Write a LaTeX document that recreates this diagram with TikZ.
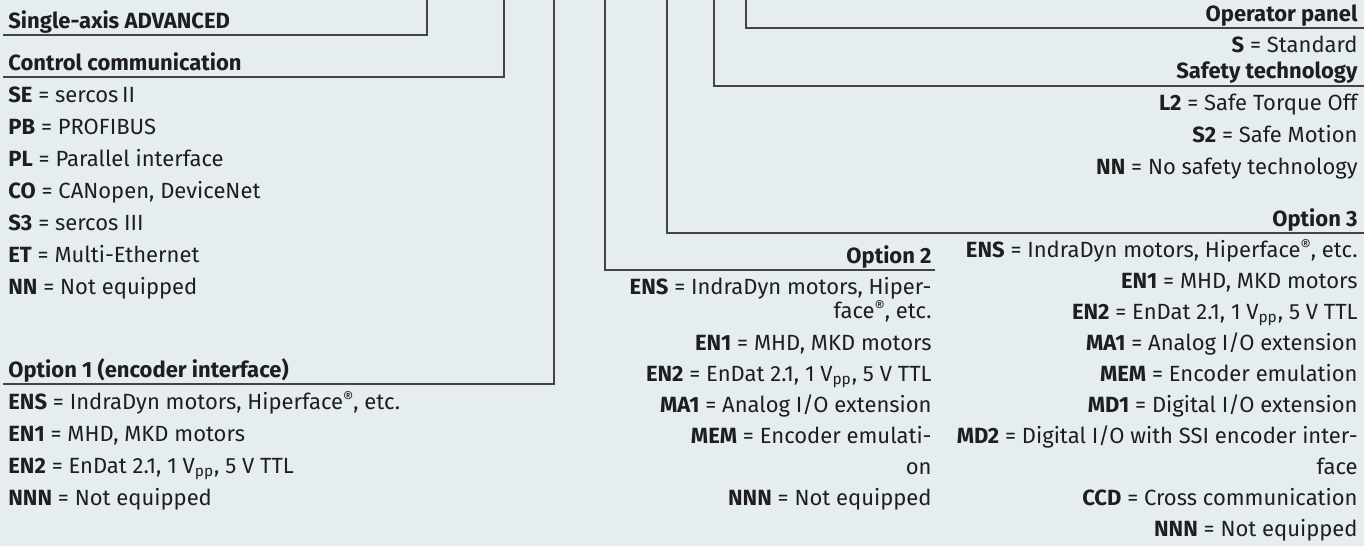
\documentclass[tikz,border=0pt]{standalone}
\usepackage{fontspec}
\setmainfont{Fira Sans}
\usepackage{xcolor}
\usetikzlibrary{positioning}
\definecolor{panelbg}{HTML}{E6EDF1}
\definecolor{rulegray}{HTML}{444444}
\definecolor{inkblack}{HTML}{1E1E1E}
\newcommand{\regmark}{\raisebox{0.25em}{\fontsize{8}{8}\selectfont ®}}

\begin{document}
\begin{tikzpicture}[x=0.5pt, y=-0.5pt,
  txt/.style={inner sep=0pt, anchor=base west, text=inkblack, font=\fontsize{11}{13}\selectfont},
  rtxt/.style={txt, anchor=base east},
  rule/.style={draw=rulegray, line width=0.65pt}]
\fill[panelbg] (0,0) rectangle (1364,546);
\useasboundingbox (0,0) rectangle (1364,546);

% corners of the bracket lines
\coordinate (singletop) at (427,0);
\coordinate (singleend) at (3,35);
\coordinate (ctrltop) at (504,0);
\coordinate (ctrlend) at (3,77);
\coordinate (optonetop) at (554,0);
\coordinate (optoneend) at (3,384);
\coordinate (opttwotop) at (605,0);
\coordinate (opttwoend) at (935,270);
\coordinate (optthreetop) at (667,0);
\coordinate (optthreeend) at (1364,233);
\coordinate (safetytop) at (714,0);
\coordinate (safetyend) at (1364,86);
\coordinate (paneltop) at (746,0);
\coordinate (panelend) at (1364,28);

% left column
\node[txt] (single) at (8,28) {\textbf{Single-axis ADVANCED}};
\node[txt] (ctrl) at (8,70) {\textbf{Control communication}};
\node[txt] (se) at (8,102) {\textbf{SE} = sercos\,II};
\node[txt] (pb) at (8,134) {\textbf{PB} = PROFIBUS};
\node[txt] (pl) at (8,166) {\textbf{PL} = Parallel interface};
\node[txt] (co) at (8,198) {\textbf{CO} = CANopen, DeviceNet};
\node[txt] (sthree) at (8,230) {\textbf{S3} = sercos III};
\node[txt] (et) at (8,262) {\textbf{ET} = Multi-Ethernet};
\node[txt] (nn) at (8,294) {\textbf{NN} = Not equipped};
\node[txt] (optone) at (8,377) {\textbf{Option 1 (encoder interface)}};
\node[txt] (ensA) at (8,409) {\textbf{ENS} = IndraDyn motors, Hiperface\regmark, etc.};
\node[txt] (enoneA) at (8,441) {\textbf{EN1} = MHD, MKD motors};
\node[txt] (entwoA) at (8,473) {\textbf{EN2} = EnDat 2.1, 1 V\textsubscript{pp}, 5 V TTL};
\node[txt] (nnnA) at (8,505) {\textbf{NNN} = Not equipped};

% middle column
\node[rtxt] (opttwo) at (932,263) {\textbf{Option 2}};
\node[rtxt] (ensB) at (932,294) {\textbf{ENS} = IndraDyn motors, Hiper-};
\node[rtxt] (ensBb) at (932,318) {face\regmark, etc.};
\node[rtxt] (enoneB) at (932,350) {\textbf{EN1} = MHD, MKD motors};
\node[rtxt] (entwoB) at (932,381) {\textbf{EN2} = EnDat 2.1, 1 V\textsubscript{pp}, 5 V TTL};
\node[rtxt] (maoneB) at (932,412) {\textbf{MA1} = Analog I/O extension};
\node[rtxt] (memB) at (932,443) {\textbf{MEM} = Encoder emulati-};
\node[rtxt] (memBb) at (932,474) {on};
\node[rtxt] (nnnB) at (932,505) {\textbf{NNN} = Not equipped};

% right column
\node[rtxt] (oppanel) at (1358,21) {\textbf{Operator panel}};
\node[rtxt] (sstd) at (1358,52) {\textbf{S} = Standard};
\node[rtxt] (safety) at (1358,78) {\textbf{Safety technology}};
\node[rtxt] (ltwo) at (1358,110) {\textbf{L2} = Safe Torque Off};
\node[rtxt] (stwo) at (1358,142) {\textbf{S2} = Safe Motion};
\node[rtxt] (nnC) at (1358,174) {\textbf{NN} = No safety technology};
\node[rtxt] (optthree) at (1358,226) {\textbf{Option 3}};
\node[rtxt] (ensC) at (1358,257) {\textbf{ENS} = IndraDyn motors, Hiperface\regmark, etc.};
\node[rtxt] (enoneC) at (1358,288) {\textbf{EN1} = MHD, MKD motors};
\node[rtxt] (entwoC) at (1358,319) {\textbf{EN2} = EnDat 2.1, 1 V\textsubscript{pp}, 5 V TTL};
\node[rtxt] (maoneC) at (1358,350) {\textbf{MA1} = Analog I/O extension};
\node[rtxt] (memC) at (1358,381) {\textbf{MEM} = Encoder emulation};
\node[rtxt] (mdoneC) at (1358,412) {\textbf{MD1} = Digital I/O extension};
\node[rtxt] (mdtwoC) at (1358,443) {\textbf{MD2} = Digital I/O with SSI encoder inter-};
\node[rtxt] (mdtwoCb) at (1358,474) {face};
\node[rtxt] (ccdC) at (1358,505) {\textbf{CCD} = Cross communication};
\node[rtxt] (nnnC) at (1358,536) {\textbf{NNN} = Not equipped};

% bracket lines
\draw[rule] (singletop) |- (singleend);
\draw[rule] (ctrltop) |- (ctrlend);
\draw[rule] (optonetop) |- (optoneend);
\draw[rule] (opttwotop) |- (opttwoend);
\draw[rule] (optthreetop) |- (optthreeend);
\draw[rule] (safetytop) |- (safetyend);
\draw[rule] (paneltop) |- (panelend);
\end{tikzpicture}
\end{document}
